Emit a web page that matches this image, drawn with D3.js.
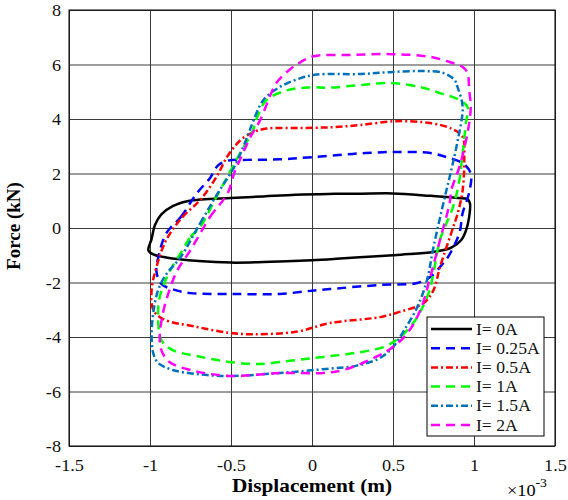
<!DOCTYPE html>
<html>
<head>
<meta charset="utf-8">
<script src="https://cdn.jsdelivr.net/npm/d3@7"></script>
<style>
  html, body { margin: 0; padding: 0; background: #fff; }
  svg { display: block; }
</style>
</head>
<body>
<svg id="chart" width="568" height="500"></svg>
<script>
// Force–displacement hysteresis loops of the damper at several coil currents.
// Displacement in units of 1e-3 m, force in kN; each loop is traced clockwise.
const xTicks = [-1.5, -1, -0.5, 0, 0.5, 1, 1.5];
const xTickLabels = ["-1.5", "-1", "-0.5", "0", "0.5", "1", "1.5"];
const yTicks = [-8, -6, -4, -2, 0, 2, 4, 6, 8];
const yTickLabels = ["-8", "-6", "-4", "-2", "0", "2", "4", "6", "8"];

const seriesNames = ["I= 0A", "I= 0.25A", "I= 0.5A", "I= 1A", "I= 1.5A", "I= 2A"];

const loop0A = [
  [-0.97, 0.1], [-0.93, 0.5], [-0.86, 0.8], [-0.77, 0.98], [-0.68, 1.05], [-0.5, 1.1],
  [-0.3, 1.16], [-0.1, 1.22], [0.1, 1.25], [0.3, 1.26], [0.5, 1.27], [0.73, 1.18],
  [0.9, 1.1], [0.96, 1.06], [0.975, 0.9], [0.97, 0.4], [0.95, -0.1], [0.92, -0.45],
  [0.86, -0.72], [0.75, -0.88], [0.55, -0.98], [0.4, -1.04], [0.2, -1.11], [0, -1.18],
  [-0.3, -1.25], [-0.5, -1.27], [-0.7, -1.21], [-0.9, -1.08], [-0.98, -0.97],
  [-1.01, -0.82], [-0.99, -0.4]
];
const loop025A = [
  [-0.9, -0.2], [-0.81, 0.4], [-0.71, 1.28], [-0.63, 1.83], [-0.58, 2.3], [-0.52, 2.47],
  [-0.4, 2.5], [-0.2, 2.52], [0, 2.6], [0.25, 2.72], [0.5, 2.79], [0.73, 2.75],
  [0.83, 2.6], [0.93, 2.38], [0.98, 2.0], [0.97, 1.3], [0.93, 0.55], [0.91, -0.18],
  [0.84, -1.06], [0.8, -1.36], [0.73, -1.8], [0.65, -2.02], [0.42, -2.09], [0.11, -2.24],
  [0, -2.3], [-0.2, -2.42], [-0.5, -2.42], [-0.75, -2.39], [-0.86, -2.25], [-0.93, -2.05],
  [-0.96, -1.6], [-0.95, -1.1]
];
const loop05A = [
  [-0.9, -0.44], [-0.8, 0.4], [-0.69, 1.03], [-0.59, 1.87], [-0.52, 2.65], [-0.44, 3.23],
  [-0.36, 3.52], [-0.28, 3.65], [-0.07, 3.67], [0.13, 3.7], [0.3, 3.78], [0.52, 3.92],
  [0.73, 3.85], [0.86, 3.65], [0.93, 3.34], [0.94, 2.6], [0.93, 1.39], [0.9, 0.55],
  [0.86, -0.18], [0.79, -1.43], [0.75, -2.28], [0.69, -2.75], [0.54, -3.08], [0.42, -3.27],
  [0.11, -3.49], [-0.09, -3.8], [-0.36, -3.9], [-0.51, -3.85], [-0.71, -3.63],
  [-0.92, -3.34], [-0.98, -3.0], [-0.99, -2.28], [-0.96, -1.43]
];
const loop1A = [
  [-0.81, -0.92], [-0.75, -0.33], [-0.69, 0.04], [-0.59, 1.14], [-0.51, 2.02], [-0.43, 2.9],
  [-0.37, 3.5], [-0.34, 4.04], [-0.28, 4.7], [-0.15, 5.06], [-0.01, 5.16], [0.11, 5.15],
  [0.3, 5.25], [0.48, 5.32], [0.67, 5.17], [0.79, 4.95], [0.91, 4.7], [0.96, 4.44],
  [0.95, 3.85], [0.93, 2.75], [0.91, 1.76], [0.87, 0.77], [0.79, -0.44], [0.75, -1.65],
  [0.72, -2.39], [0.65, -3.27], [0.59, -3.74], [0.52, -4.11], [0.44, -4.37], [0.25, -4.6],
  [0.07, -4.73], [-0.09, -4.84], [-0.34, -4.99], [-0.55, -4.88], [-0.71, -4.7],
  [-0.86, -4.48], [-0.93, -4.11], [-0.95, -3.27], [-0.94, -2.53], [-0.88, -1.61]
];
const loop15A = [
  [-0.81, -1.06], [-0.69, 0.18], [-0.57, 1.39], [-0.49, 2.13], [-0.43, 2.9], [-0.39, 3.5],
  [-0.36, 3.96], [-0.3, 4.7], [-0.2, 5.17], [-0.07, 5.5], [0.03, 5.63], [0.3, 5.65],
  [0.48, 5.72], [0.67, 5.76], [0.81, 5.69], [0.88, 5.43], [0.9, 5.14], [0.93, 4.44],
  [0.9, 3.23], [0.86, 2.13], [0.82, 1.14], [0.75, -0.7], [0.71, -1.91], [0.65, -2.9],
  [0.57, -3.74], [0.5, -4.37], [0.42, -4.77], [0.27, -5.06], [0.09, -5.17], [-0.2, -5.32],
  [-0.51, -5.43], [-0.71, -5.36], [-0.86, -5.21], [-0.95, -4.95], [-0.98, -4.59],
  [-0.99, -4.0], [-0.98, -3.12], [-0.95, -2.28], [-0.9, -1.7]
];
const loop2A = [
  [-0.75, -0.81], [-0.63, 0.4], [-0.52, 1.28], [-0.48, 2.02], [-0.43, 2.7], [-0.38, 3.34],
  [-0.32, 3.96], [-0.22, 5.32], [-0.14, 5.8], [-0.07, 6.09], [0.01, 6.3], [0.25, 6.35],
  [0.5, 6.38], [0.73, 6.28], [0.85, 6.09], [0.93, 5.91], [0.96, 5.69], [0.97, 5.06],
  [0.98, 4.44], [0.96, 3.49], [0.91, 2.24], [0.86, 1.39], [0.85, 0.92], [0.79, -0.44],
  [0.73, -1.8], [0.67, -3.0], [0.59, -3.85], [0.5, -4.37], [0.42, -4.66], [0.2, -5.2],
  [0.07, -5.32], [-0.2, -5.32], [-0.51, -5.43], [-0.75, -5.21], [-0.88, -4.92],
  [-0.93, -4.48], [-0.94, -4.0], [-0.92, -3.12], [-0.88, -2.28], [-0.83, -1.54]
];

const loops = [loop0A, loop025A, loop05A, loop1A, loop15A, loop2A];
const colors = ["#000000", "#0000ff", "#ff0000", "#00ff00", "#0072bd", "#ff00ff"];
const dashes = [null, "9,6", "7,3,2,3", "9,6", "7,3,2,3", "9,6"];

const FONT = "Liberation Serif";
const WIDE = "scale(1.14,1)"; // slightly wide lettering, as in the printed figure

const svg = d3.select("#chart");
const plot = { left: 69, right: 555, top: 10, bottom: 446 };

const x = d3.scaleLinear().domain([-1.5, 1.5]).range([plot.left, plot.right]);
const y = d3.scaleLinear().domain([-8, 8]).range([plot.bottom, plot.top]);

// Grid lines and tick labels
const xAxis = d3.axisBottom(x)
  .tickValues(xTicks)
  .tickFormat((d, i) => xTickLabels[i])
  .tickSize(-(plot.bottom - plot.top));
const yAxis = d3.axisLeft(y)
  .tickValues(yTicks)
  .tickFormat((d, i) => yTickLabels[i])
  .tickSize(-(plot.right - plot.left));

const gx = svg.append("g").attr("transform", `translate(0,${plot.bottom})`).call(xAxis);
const gy = svg.append("g").attr("transform", `translate(${plot.left},0)`).call(yAxis);
[gx, gy].forEach(g => {
  g.attr("font-family", FONT).attr("font-size", 16);
  g.select(".domain").remove();
  g.selectAll(".tick line").attr("stroke", "#3a3a3a").attr("stroke-width", 1);
  g.selectAll(".tick text")
    .attr("fill", "#111")
    .attr("font-family", FONT)
    .attr("transform", WIDE);
});
gx.selectAll(".tick text").attr("y", 25).attr("dy", 0);
gy.selectAll(".tick text").attr("x", -7).attr("dy", "0.36em");

// Hysteresis loops
const line = d3.line()
  .x(d => x(d[0]))
  .y(d => y(d[1]))
  .curve(d3.curveCatmullRomClosed.alpha(0.5));

svg.append("clipPath").attr("id", "plot-clip")
  .append("rect")
  .attr("x", plot.left).attr("y", plot.top)
  .attr("width", plot.right - plot.left).attr("height", plot.bottom - plot.top);

const gLoops = svg.append("g").attr("clip-path", "url(#plot-clip)");
gLoops.selectAll("path.loop")
  .data(loops)
  .join("path")
  .attr("class", "loop")
  .attr("d", line)
  .attr("fill", "none")
  .attr("stroke", (d, i) => colors[i])
  .attr("stroke-width", 2.5)
  .attr("stroke-linejoin", "round")
  .attr("stroke-dasharray", (d, i) => dashes[i]);

// Plot frame
svg.append("rect")
  .attr("x", plot.left).attr("y", plot.top)
  .attr("width", plot.right - plot.left).attr("height", plot.bottom - plot.top)
  .attr("fill", "none").attr("stroke", "#000").attr("stroke-width", 1);

// Axis titles
svg.append("text")
  .attr("transform", `translate(${(plot.left + plot.right) / 2},492) scale(1.15,1)`)
  .attr("text-anchor", "middle")
  .attr("font-family", FONT)
  .attr("font-weight", "bold")
  .attr("font-size", 18.5)
  .text("Displacement (m)");

svg.append("text")
  .attr("transform", "translate(20,226) rotate(-90)")
  .attr("text-anchor", "middle")
  .attr("font-family", FONT)
  .attr("font-weight", "bold")
  .attr("font-size", 19)
  .text("Force (kN)");

// Exponent label for the displacement axis
const expo = svg.append("text")
  .attr("transform", `translate(507,496) ${WIDE}`)
  .attr("font-family", FONT)
  .attr("font-size", 16);
expo.append("tspan").text("\u00d710");
expo.append("tspan").attr("dy", -9).attr("font-size", 12).text("-3");

// Legend
const legend = svg.append("g").attr("transform", "translate(427,317)");
legend.append("rect")
  .attr("width", 117).attr("height", 119)
  .attr("fill", "#fff").attr("stroke", "#000").attr("stroke-width", 1);
const rows = legend.selectAll("g.row")
  .data(seriesNames)
  .join("g")
  .attr("class", "row")
  .attr("transform", (d, i) => `translate(0,${12 + i * 19.2})`);
rows.append("line")
  .attr("x1", 4).attr("x2", 45)
  .attr("stroke", (d, i) => colors[i])
  .attr("stroke-width", 2.5)
  .attr("stroke-dasharray", (d, i) => dashes[i]);
rows.append("text")
  .attr("transform", "translate(49,0) scale(1.1,1)")
  .attr("dy", "0.35em")
  .attr("font-family", FONT)
  .attr("font-size", 16)
  .attr("fill", "#111")
  .text(d => d);
</script>
</body>
</html>
